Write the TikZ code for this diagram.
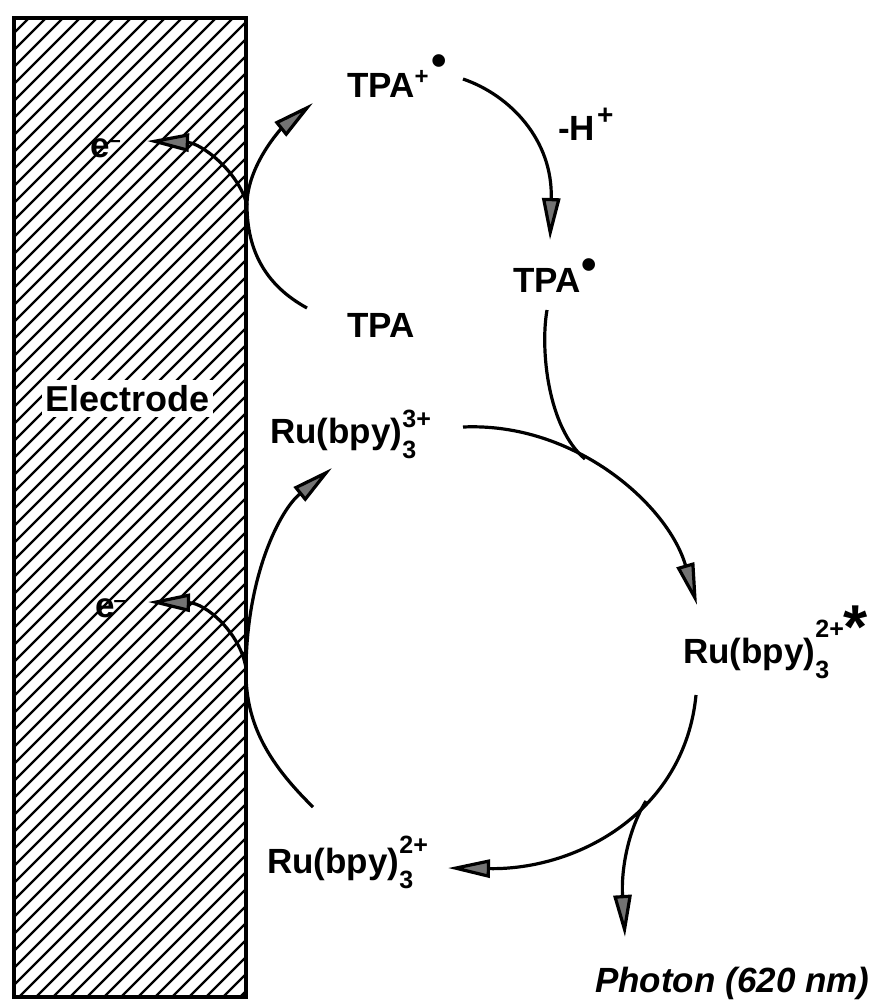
\documentclass[tikz,border=0pt]{standalone}
\usepackage{fontspec}
\setmainfont{Liberation Sans}
\usetikzlibrary{arrows.meta}

% species with stacked subscript / superscript: {main}{sub}{sup}{raise of sup}
\newcommand{\smallfnt}{\fontsize{25}{25}\selectfont}
\newcommand{\spc}[4]{#1\rlap{\raisebox{-15pt}{\smallfnt #2}}\raisebox{#4}{\smallfnt #3}}
\newcommand{\raddot}[1]{\raisebox{#1}{\fontsize{44}{44}\selectfont\textbullet}}
\newcommand{\chg}[2]{\raisebox{#1}{\fontsize{#2}{#2}\selectfont +}}
\newcommand{\elec}{e\hspace{-1pt}\raisebox{10pt}{\fontsize{22}{22}\selectfont –}}

\begin{document}
\begin{tikzpicture}[x=1pt,y=-1pt,
  lbl/.style={inner sep=0pt, anchor=base west, font=\fontsize{35}{40}\selectfont\bfseries},
  conn/.style={line width=3.2pt},
  rxn/.style={conn, -{Triangle[length=42pt,width=18pt,fill=black!55]}},
  hatch/.style={line width=2.2pt}]
\useasboundingbox (0,0) rectangle (882,1005);

% electrode: hatched bar
\begin{scope}
  \clip (14,18) rectangle (246,997);
  \foreach \c in {30,47,...,1260}
    \draw[hatch] (\c-18,18) -- (\c-997,997);
\end{scope}
\node[draw, line width=3.5pt, minimum width=232pt, minimum height=979pt, inner sep=0pt]
  (electrode) at (130,507.5) {};
\node[font=\fontsize{36}{40}\selectfont\bfseries, fill=white, inner xsep=3pt, inner ysep=5pt]
  (elabel) at (127.5,398.5) {Electrode};

% species
\node[lbl] (tpac) at (347,97) {TPA\chg{13pt}{24}\hspace{3pt}\raddot{22pt}};
\node[lbl] (mh)   at (558,140) {-H\hspace{2pt}\chg{16pt}{28}};
\node[lbl] (tpar) at (513,292) {TPA\hspace{1pt}\raddot{13pt}};
\node[lbl] (tpa)  at (347,337) {TPA};
\node[lbl] (e1)   at (90,157)  {\elec};
\node[lbl] (e2)   at (95,617)  {\elec};
\node[lbl] (ru3)  at (270,443) {\spc{Ru(bpy)}{3}{3+}{16pt}};
\node[lbl] (ru2s) at (683,663) {\spc{Ru(bpy)}{3}{2+}{26pt}\raisebox{15pt}{\fontsize{62}{62}\selectfont *}};
\node[lbl] (ru2)  at (267,873) {\spc{Ru(bpy)}{3}{2+}{20pt}};
\node[lbl, font=\fontsize{35}{40}\selectfont\bfseries\itshape] (photon) at (595,992) {Photon (620 nm)};

% connector end points
\coordinate (tpa-out)  at (307,308);
\coordinate (k1)       at (247,205);
\coordinate (tpac-in)  at (313,103);
\coordinate (e1-in)    at (147,141);
\coordinate (tpac-out) at (463,79);
\coordinate (tpar-in)  at (550,240);
\coordinate (tpar-out) at (547,310);
\coordinate (ru3-out)  at (463,427);
\coordinate (m1)       at (585,459);
\coordinate (ru2s-in)  at (697,605);
\coordinate (ru2s-out) at (696,695);
\coordinate (ru2-in)   at (448,868);
\coordinate (m2)       at (646,801);
\coordinate (ph-in)    at (625,937);
\coordinate (ru2-out)  at (313,807);
\coordinate (k2)       at (246,668);
\coordinate (ru3-in)   at (332,468);
\coordinate (e2-in)    at (148,602);

% TPA oxidation at the electrode
\draw[conn] (tpa-out) .. controls (265,285) and (247,250) .. (k1);
\draw[rxn]  (k1) .. controls (247,165) and (282,128) .. (tpac-in);
\draw[rxn]  (k1) .. controls (238,170) and (200,143) .. (e1-in);
% deprotonation
\draw[rxn]  (tpac-out) .. controls (510,95) and (553,140) .. (tpar-in);
% TPA radical reduces Ru(bpy)3 3+
\draw[conn] (tpar-out) .. controls (540,350) and (548,428) .. (m1);
\draw[rxn]  (ru3-out) .. controls (575,422) and (668,505) .. (ru2s-in);
% emission
\draw[rxn]  (ru2s-out) .. controls (685,810) and (580,870) .. (ru2-in);
\draw[rxn]  (m2) .. controls (628,830) and (621,870) .. (ph-in);
% Ru(bpy)3 2+ oxidation at the electrode
\draw[conn] (ru2-out) .. controls (265,760) and (245,720) .. (k2);
\draw[rxn]  (k2) .. controls (247,575) and (280,510) .. (ru3-in);
\draw[rxn]  (k2) .. controls (240,632) and (205,603) .. (e2-in);
\end{tikzpicture}
\end{document}
